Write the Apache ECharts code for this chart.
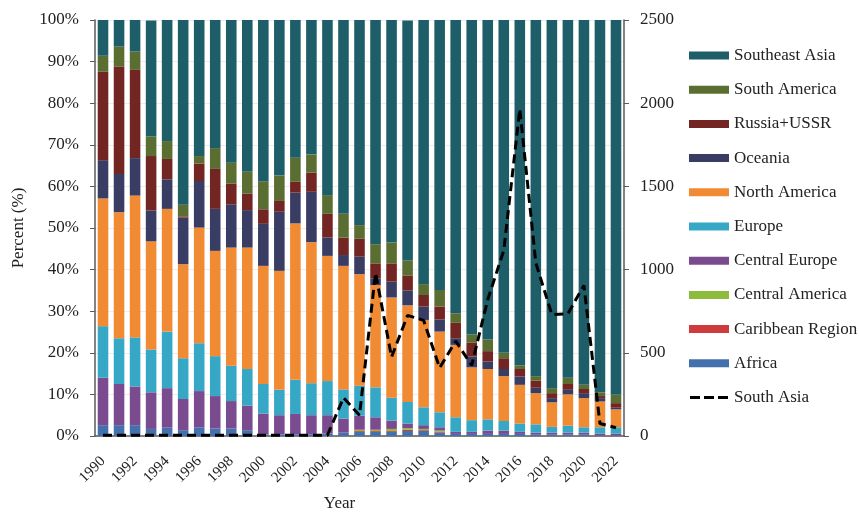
<!DOCTYPE html>
<html>
<head>
<meta charset="utf-8">
<script src="https://cdn.jsdelivr.net/npm/echarts@6/dist/echarts.min.js"></script>
<style>
  html, body { margin: 0; padding: 0; background: #ffffff; }
  #chart { width: 859px; height: 512px; }
</style>
</head>
<body>
<div id="chart"></div>
<script>
// Years on the category axis
const years = ['1990','1991','1992','1993','1994','1995','1996','1997','1998','1999',
  '2000','2001','2002','2003','2004','2005','2006','2007','2008','2009',
  '2010','2011','2012','2013','2014','2015','2016','2017','2018','2019',
  '2020','2021','2022'];

// Share of each region per year (%), stacked bottom to top
const africa = [2.6,2.6,2.6,1.7,2.0,1.4,2.1,1.8,1.8,1.4,0.4,0.4,0.4,0.4,0.6,0.8,1.0,1.0,1.0,1.2,1.2,0.8,0.5,0.5,0.5,0.5,0.5,0.3,0.3,0.3,0.3,0.2,0.2];
const caribbean = [0,0,0,0,0,0,0,0,0,0,0,0,0,0,0,0,0.2,0.2,0.2,0.3,0.2,0.2,0,0,0,0,0,0,0,0,0,0,0];
const centralAmerica = [0,0,0,0,0,0,0,0,0,0,0,0,0,0,0,0,0.3,0.3,0.5,0.4,0.3,0.3,0,0,0,0,0,0,0,0,0,0,0];
const centralEurope = [11.4,9.9,9.3,8.8,9.5,7.5,8.7,7.8,6.6,5.9,5.0,4.6,4.9,4.6,4.4,3.4,3.4,3.0,2.0,1.1,0.9,0.8,0.5,0.5,0.8,0.8,0.5,0.5,0.5,0.5,0.5,0.4,0.4];
const europe = [12.4,11.0,11.8,10.3,13.6,9.8,11.5,9.6,8.5,8.8,7.1,6.1,8.2,7.7,8.2,7.0,7.2,7.2,5.5,5.2,4.3,3.6,3.5,2.8,2.7,2.3,2.0,2.0,1.4,1.7,1.3,1.5,1.5];
const northAmerica = [30.7,30.3,34.1,26.0,29.5,22.6,27.8,25.3,28.4,29.2,28.4,28.6,37.6,33.9,30.1,29.7,26.8,24.6,24.1,23.2,21.0,19.4,17.4,12.7,12.1,10.8,9.3,7.5,5.9,7.5,7.0,6.2,4.3];
const oceania = [9.2,9.2,9.0,7.4,7.1,11.2,11.2,10.1,10.4,9.0,10.1,14.2,7.4,12.1,4.4,2.6,4.2,1.6,3.8,3.6,3.2,2.9,1.6,2.6,1.8,1.7,2.0,1.3,1.0,1.1,1.2,0.8,0.4];
const russiaUssr = [21.3,25.8,21.2,13.1,4.9,0.3,4.2,9.6,5.0,4.0,3.5,2.6,2.6,4.6,5.7,4.2,4.3,3.6,4.4,3.6,2.8,3.1,3.7,3.3,2.5,2.6,1.8,1.7,1.2,1.4,1.0,0.5,1.1];
const southAmerica = [3.8,4.8,4.4,4.7,4.3,2.8,1.8,5.0,5.0,5.2,6.7,6.1,5.8,4.4,4.5,5.7,3.3,4.6,5.0,3.6,2.6,4.0,2.3,2.0,2.8,1.3,0.9,1.1,1.2,1.5,1.0,0.9,2.0];
const southeastAsia = [8.6,6.4,7.6,27.9,29.1,44.5,32.7,30.8,34.3,36.5,38.8,37.4,33.1,32.3,42.1,46.6,49.3,53.9,53.5,57.7,63.5,64.9,70.5,75.6,76.8,80.0,83.0,85.6,88.5,86.0,87.7,89.5,90.1];

// South Asia count, right axis
const southAsia = [5,5,5,5,5,5,5,5,5,5,5,5,5,5,5,230,125,980,475,725,695,410,570,425,820,1115,1965,1040,730,735,905,75,50];

// Axis ticks
const percentTicks = { min: 0, max: 100, interval: 10 };
const countTicks = { min: 0, max: 2500, interval: 500 };

const FONT = 'Liberation Serif';
const TEXT = '#222222';
const AXIS = '#5a5a5a';

const stacks = [
  { name: 'Africa', data: africa, color: '#4470ad' },
  { name: 'Caribbean Region', data: caribbean, color: '#cf3a3c' },
  { name: 'Central America', data: centralAmerica, color: '#8dbb3c' },
  { name: 'Central Europe', data: centralEurope, color: '#7b4b8f' },
  { name: 'Europe', data: europe, color: '#36a8c5' },
  { name: 'North America', data: northAmerica, color: '#f08a33' },
  { name: 'Oceania', data: oceania, color: '#393c63' },
  { name: 'Russia+USSR', data: russiaUssr, color: '#722523' },
  { name: 'South America', data: southAmerica, color: '#5b6e31' },
  { name: 'Southeast Asia', data: southeastAsia, color: '#1e5e69' }
];

const series = stacks.map(s => ({
  name: s.name,
  type: 'bar',
  stack: 'share',
  data: s.data,
  barCategoryGap: '34%',
  itemStyle: { color: s.color },
  emphasis: { disabled: true }
}));

series.push({
  name: 'South Asia',
  type: 'line',
  yAxisIndex: 1,
  data: southAsia,
  symbol: 'none',
  z: 10,
  lineStyle: { color: '#000000', width: 3, type: [9, 5] },
  itemStyle: { color: '#000000' }
});

// Legend lists the regions top of stack first, then the dashed line
const legendOrder = [
  'Southeast Asia', 'South America', 'Russia+USSR', 'Oceania', 'North America',
  'Europe', 'Central Europe', 'Central America', 'Caribbean Region', 'Africa'
];
// Three short dashes inside an 8-unit tall box
const dashIcon = 'path://M0,0L0,0M0,8L0,8M0,2.6H10V5.4H0ZM14,2.6H24V5.4H14ZM28,2.6H38V5.4H28Z';

const chart = echarts.init(document.getElementById('chart'), null, { renderer: 'canvas' });
chart.setOption({
  animation: false,
  backgroundColor: '#ffffff',
  grid: { left: 95, right: 235, top: 20, bottom: 76, containLabel: false, outerBoundsMode: 'none' },
  legend: {
    orient: 'vertical',
    left: 689,
    top: 47,
    padding: 0,
    itemWidth: 40,
    itemHeight: 8,
    itemGap: 17.2,
    data: legendOrder.map(n => ({ name: n, icon: 'rect' }))
      .concat([{ name: 'South Asia', icon: dashIcon, itemStyle: { color: '#000000' } }]),
    textStyle: { fontFamily: FONT, fontSize: 17, color: TEXT, lineHeight: 17 },
    selectedMode: false
  },
  xAxis: {
    type: 'category',
    data: years,
    name: 'Year',
    nameLocation: 'middle',
    nameGap: 59,
    nameTextStyle: { fontFamily: FONT, fontSize: 17, color: TEXT, padding: [0, 40, 0, 0] },
    axisLine: { lineStyle: { color: AXIS, width: 1.5 } },
    axisTick: { show: false },
    axisLabel: {
      interval: 1,
      rotate: 45,
      margin: 23,
      fontFamily: FONT,
      fontSize: 15,
      color: TEXT
    }
  },
  yAxis: [
    {
      type: 'value',
      min: percentTicks.min,
      max: percentTicks.max,
      interval: percentTicks.interval,
      name: 'Percent (%)',
      nameLocation: 'middle',
      nameGap: 68,
      nameRotate: 90,
      nameTextStyle: { fontFamily: FONT, fontSize: 17, color: TEXT },
      axisLine: { show: true, lineStyle: { color: AXIS, width: 1.5 } },
      axisTick: { show: true, length: 5, lineStyle: { color: AXIS } },
      axisLabel: { formatter: '{value}%', margin: 16, fontFamily: FONT, fontSize: 17, color: TEXT },
      splitLine: { show: true, lineStyle: { color: '#ececec', width: 1 } }
    },
    {
      type: 'value',
      min: countTicks.min,
      max: countTicks.max,
      interval: countTicks.interval,
      position: 'right',
      axisLine: { show: true, lineStyle: { color: AXIS, width: 1.5 } },
      axisTick: { show: true, length: 5, inside: false, lineStyle: { color: AXIS } },
      axisLabel: { formatter: v => String(v), margin: 16, fontFamily: FONT, fontSize: 17, color: TEXT },
      splitLine: { show: false }
    }
  ],
  series: series
});
</script>
</body>
</html>
